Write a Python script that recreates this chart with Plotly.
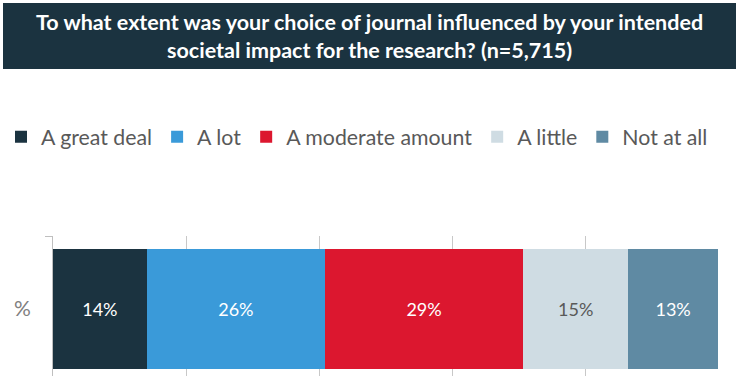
import plotly.graph_objects as go

categories = ["%"]
series_names = ["A great deal", "A lot", "A moderate amount", "A little", "Not at all"]
series_values = [14.1, 26.8, 29.8, 15.8, 13.5]
value_labels = ["14%", "26%", "29%", "15%", "13%"]
colors = ["#1b3340", "#3a9ad9", "#dc172f", "#cfdce3", "#5f8aa3"]
label_colors = ["#ffffff", "#ffffff", "#ffffff", "#595959", "#ffffff"]
x_ticks = [0, 20, 40, 60, 80, 100]
title_text = "To what extent was your choice of journal influenced by your intended<br>societal impact for the research? (n=5,715)"

W, H = 739, 376
ml, mr, mt, mb = 53, 21, 236, 0
pw, ph = W - ml - mr, H - mt - mb

def px_x(p):
    return (p - ml) / pw

def px_y(p):
    return (H - mb - p) / ph

fig = go.Figure()
for name, val, lab, col, lcol in zip(series_names, series_values, value_labels, colors, label_colors):
    fig.add_trace(go.Bar(
        y=[0], x=[val], name=name, orientation="h",
        marker=dict(color=col, line=dict(width=0)),
        width=0.857,
        text=[lab], textposition="inside", insidetextanchor="middle",
        textfont=dict(color=lcol, size=18, family="Lato"),
        hoverinfo="skip",
    ))

fig.update_layout(
    barmode="stack",
    width=W, height=H,
    margin=dict(l=ml, r=mr, t=mt, b=mb, pad=0, autoexpand=False),
    plot_bgcolor="white", paper_bgcolor="white",
    showlegend=True,
    legend=dict(
        orientation="h", x=px_x(1), xanchor="left", y=px_y(137), yanchor="middle",
        font=dict(size=21.3, color="#595959", family="Lato"),
        traceorder="normal", itemwidth=30, bgcolor="rgba(0,0,0,0)",
    ),
    xaxis=dict(
        range=[0, 100], tickvals=x_ticks, showticklabels=False,
        showgrid=True, gridcolor="#c8c8c8", gridwidth=1,
        zeroline=False, showline=False, fixedrange=True,
    ),
    yaxis=dict(
        range=[-0.479, 0.521], tickvals=[0], ticktext=categories,
        ticks="", showgrid=False, zeroline=False,
        showline=True, linecolor="#bfbfbf", linewidth=1,
        tickfont=dict(size=21, color="#808080", family="Lato"),
        ticklabelstandoff=17,
        minor=dict(tickvals=[0.521], ticks="outside", ticklen=7, tickcolor="#bfbfbf", showgrid=False),
    ),
    shapes=[dict(
        type="rect", xref="paper", yref="paper",
        x0=px_x(3), x1=px_x(736), y0=px_y(69), y1=px_y(3),
        fillcolor="#1b3340", line=dict(width=0), layer="below",
    )],
    annotations=[dict(
        text=title_text, xref="paper", yref="paper",
        x=px_x(369.5), y=px_y(36), xanchor="center", yanchor="middle",
        showarrow=False, align="center",
        font=dict(size=21.5, color="white", family="Lato", weight="bold"),
    )],
)

fig.write_html(
    "out.html",
    config={"displayModeBar": False},
    post_script="document.body.style.margin='0';document.body.style.overflow='hidden';",
)
